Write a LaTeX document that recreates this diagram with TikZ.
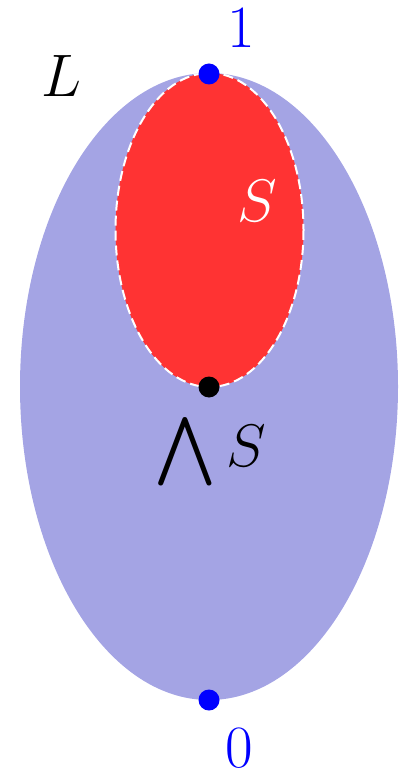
\RequirePackage{fix-cm}
\documentclass[tikz,border=0pt]{standalone}
\usepackage{amsmath}
\usepackage{graphicx}
\definecolor{lattice}{RGB}{164,164,228}
\definecolor{subset}{RGB}{255,51,51}
\tikzset{
  dotpt/.style={circle, inner sep=0pt, minimum size=21pt},
  lbl/.style={inner sep=0pt, font=\fontsize{60}{72}\selectfont}
}
\begin{document}
\begin{tikzpicture}[x=1pt, y=-1pt]
\useasboundingbox (0,0) rectangle (403,775);
\fill[lattice] (209,386.5) ellipse [x radius=189, y radius=313.5];
\fill[subset] (209.5,230) ellipse [x radius=94, y radius=157];
\draw[white, line width=2pt, dash pattern=on 10pt off 5pt] (209.5,230) ellipse [x radius=94, y radius=157];
\node[dotpt, fill=blue] (top) at (209,74) {};
\node[dotpt, fill=black] (meet) at (209,387) {};
\node[dotpt, fill=blue] (bot) at (209,700) {};
\node[lbl, text=blue] (one) at (241,28.5) {$1$};
\node[lbl, text=blue] (zero) at (239,748) {$0$};
\node[lbl] (L) at (61,76) {$L$};
\node[lbl, text=white] (S) at (257,201) {$S$};
\node[lbl] (inf) at (210,451.5) {$\mathop{\vcenter{\hbox{\scalebox{7.4}[6.85]{\normalsize$\bigwedge$}}}} S$};
\end{tikzpicture}
\end{document}
